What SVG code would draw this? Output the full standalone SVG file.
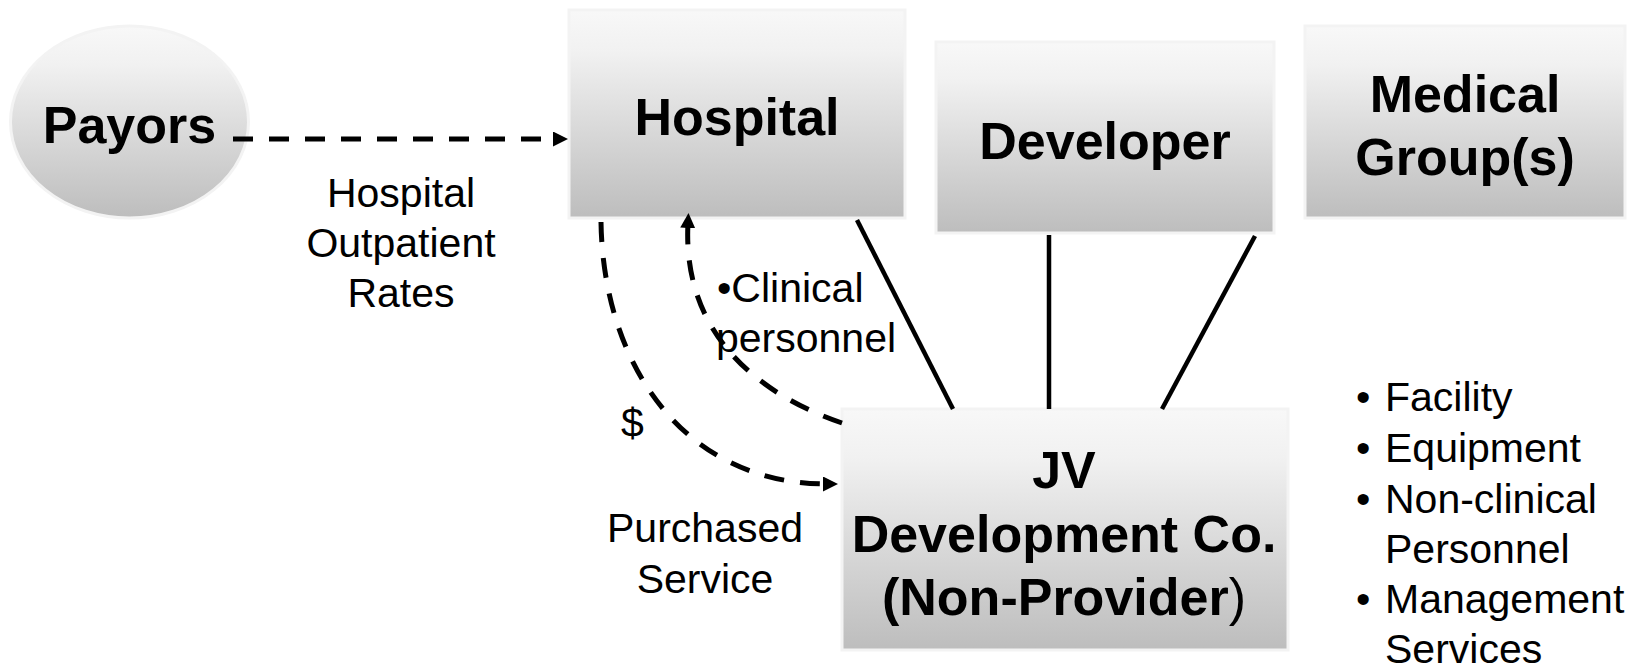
<svg xmlns="http://www.w3.org/2000/svg" width="1644" height="672" viewBox="0 0 1644 672">
  <defs>
    <linearGradient id="gfill" x1="0" y1="0" x2="0" y2="1">
      <stop offset="0" stop-color="#f8f8f8"/>
      <stop offset="0.2" stop-color="#f1f1f1"/>
      <stop offset="1" stop-color="#bdbdbd"/>
    </linearGradient>
    <marker id="ah" markerUnits="userSpaceOnUse" markerWidth="16" markerHeight="16" refX="5" refY="7.5" orient="auto">
      <path d="M0,0 L15,7.5 L0,15 z" fill="#000"/>
    </marker>
    <style>
      .node { fill: url(#gfill); stroke: #f3f3f3; stroke-width: 3; }
      .title { font-family: "Liberation Sans", Arial, Helvetica, sans-serif; font-weight: bold; font-size: 52px; fill: #000; text-anchor: middle; }
      .lbl { font-family: "Liberation Sans", Arial, Helvetica, sans-serif; font-size: 41px; fill: #000; }
      .mid { text-anchor: middle; }
      .solid { stroke: #000; stroke-width: 4.5; fill: none; }
      .dash { stroke: #000; stroke-width: 5; fill: none; stroke-dasharray: 20 16; }
    </style>
  </defs>
  <rect width="1644" height="672" fill="#fff"/>

  <g id="payors">
    <ellipse class="node" cx="129.5" cy="122" rx="119" ry="96"/>
    <text class="title" x="129.5" y="143">Payors</text>
  </g>

  <g id="hospital">
    <rect class="node" x="569" y="10" width="336" height="208"/>
    <text class="title" x="737" y="135">Hospital</text>
  </g>

  <g id="developer">
    <rect class="node" x="936" y="42" width="338" height="191"/>
    <text class="title" x="1105" y="159">Developer</text>
  </g>

  <g id="medical-groups">
    <rect class="node" x="1305" y="26" width="320" height="192"/>
    <text class="title" x="1465" y="112">Medical</text>
    <text class="title" x="1465" y="175">Group(s)</text>
  </g>

  <g id="jv">
    <rect class="node" x="842" y="409" width="446" height="241"/>
    <text class="title" x="1064" y="488">JV</text>
    <text class="title" x="1064" y="552">Development Co.</text>
    <text class="title" x="1064" y="615">(Non-Provider<tspan font-weight="normal">)</tspan></text>
  </g>

  <g id="connectors">
    <line class="dash" x1="233" y1="139" x2="558" y2="139" marker-end="url(#ah)"/>
    <line class="solid" x1="857" y1="220" x2="953" y2="409"/>
    <line class="solid" x1="1049" y1="235" x2="1049" y2="409"/>
    <line class="solid" x1="1255" y1="236" x2="1162" y2="409"/>
    <path class="dash" d="M601 222 C603 360 680 484 828 484" marker-end="url(#ah)"/>
    <path class="dash" d="M842 423 C760 395 682 335 688 223" marker-end="url(#ah)"/>
  </g>

  <g id="labels">
    <text class="lbl mid" x="401" y="207">Hospital</text>
    <text class="lbl mid" x="401" y="257">Outpatient</text>
    <text class="lbl mid" x="401" y="307">Rates</text>

    <text class="lbl" x="717" y="302">•Clinical</text>
    <text class="lbl" x="716" y="352">personnel</text>

    <text class="lbl" x="621" y="437">$</text>

    <text class="lbl mid" x="705" y="542">Purchased</text>
    <text class="lbl mid" x="705" y="593">Service</text>

    <text class="lbl" x="1356" y="411">•</text>
    <text class="lbl" x="1385" y="411">Facility</text>
    <text class="lbl" x="1356" y="462">•</text>
    <text class="lbl" x="1385" y="462">Equipment</text>
    <text class="lbl" x="1356" y="513">•</text>
    <text class="lbl" x="1385" y="513">Non-clinical</text>
    <text class="lbl" x="1385" y="563">Personnel</text>
    <text class="lbl" x="1356" y="613">•</text>
    <text class="lbl" x="1385" y="613">Management</text>
    <text class="lbl" x="1385" y="663">Services</text>
  </g>
</svg>
